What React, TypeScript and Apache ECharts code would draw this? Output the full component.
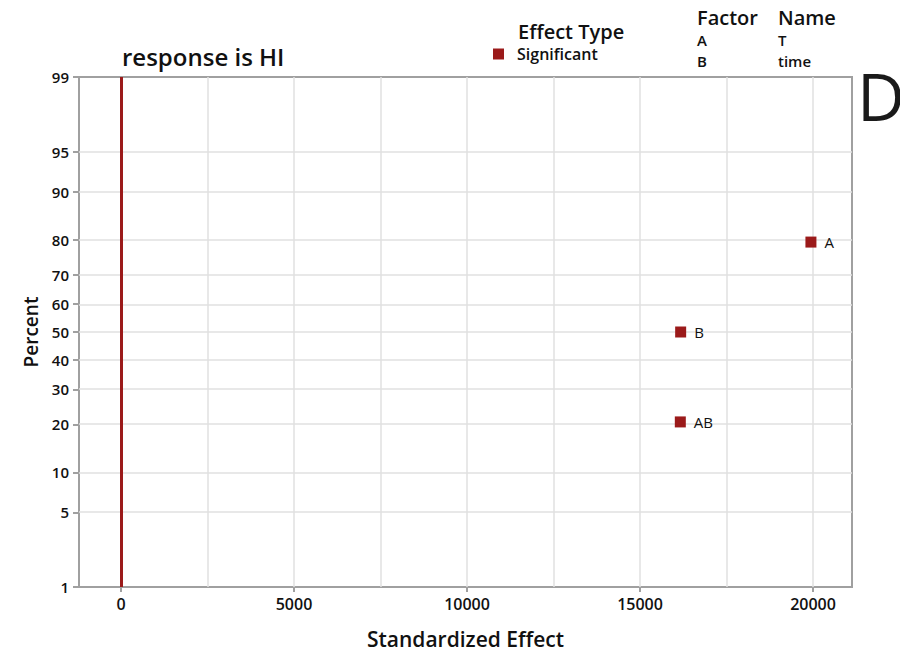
import React, { useEffect, useRef } from "react";
import * as echarts from "echarts";

// ---- data ----
const effectNames = ["AB", "B", "A"];
const effectValues = [16165, 16175, 19940];
const effectPercents = [20.6, 50, 79.4];
const percentTicks = [1, 5, 10, 20, 30, 40, 50, 60, 70, 80, 90, 95, 99];
const xTickValues = [0, 5000, 10000, 15000, 20000];
const xGridValues = [0, 2500, 5000, 7500, 10000, 12500, 15000, 17500, 20000];
const factorCodes = ["A", "B"];
const factorNames = ["T", "time"];

// inverse of the standard normal CDF (Acklam)
function invNorm(p: number): number {
  const a = [-3.969683028665376e1, 2.209460984245205e2, -2.759285104469687e2, 1.38357751867269e2, -3.066479806614716e1, 2.506628277459239];
  const b = [-5.447609879822406e1, 1.615858368580409e2, -1.556989798598866e2, 6.680131188771972e1, -1.328068155288572e1];
  const c = [-7.784894002430293e-3, -3.223964580411365e-1, -2.400758277161838, -2.549732539343734, 4.374664141464968, 2.938163982698783];
  const d = [7.784695709041462e-3, 3.224671290700398e-1, 2.445134137142996, 3.754408661907416];
  const pl = 0.02425;
  const ph = 1 - pl;
  if (p < pl) {
    const q = Math.sqrt(-2 * Math.log(p));
    return (((((c[0] * q + c[1]) * q + c[2]) * q + c[3]) * q + c[4]) * q + c[5]) / ((((d[0] * q + d[1]) * q + d[2]) * q + d[3]) * q + 1);
  }
  if (p <= ph) {
    const q = p - 0.5;
    const r = q * q;
    return ((((((a[0] * r + a[1]) * r + a[2]) * r + a[3]) * r + a[4]) * r + a[5]) * q) / (((((b[0] * r + b[1]) * r + b[2]) * r + b[3]) * r + b[4]) * r + 1);
  }
  const q = Math.sqrt(-2 * Math.log(1 - p));
  return -(((((c[0] * q + c[1]) * q + c[2]) * q + c[3]) * q + c[4]) * q + c[5]) / ((((d[0] * q + d[1]) * q + d[2]) * q + d[3]) * q + 1);
}

const FONT = "'Open Sans', 'Noto Sans', sans-serif";
const RED = "#9b1a1a";
const AXIS_GRAY = "#a0a0a0";
const GRID_GRAY = "#e0e0e0";
const INK = "#111111";

export default function App() {
  const ref = useRef<HTMLDivElement>(null);
  useEffect(() => {
    if (!ref.current) return;
    const chart = echarts.init(ref.current, undefined, { renderer: "svg" });
    const zTicks = percentTicks.map((p) => invNorm(p / 100));
    const yMin = zTicks[0];
    const yMax = zTicks[zTicks.length - 1];
    const labelFor = (v: number) => {
      let best = 0;
      let bd = Infinity;
      zTicks.forEach((z, i) => {
        const dd = Math.abs(z - v);
        if (dd < bd) {
          bd = dd;
          best = i;
        }
      });
      return String(percentTicks[best]);
    };
    const points = effectValues.map((v, i) => ({
      name: effectNames[i],
      value: [v, invNorm(effectPercents[i] / 100)],
    }));

    chart.setOption({
      animation: false,
      backgroundColor: "#ffffff",
      textStyle: { fontFamily: FONT },
      grid: {
        left: 79,
        right: 48,
        top: 77,
        bottom: 70,
        show: true,
        borderColor: AXIS_GRAY,
        borderWidth: 2,
        backgroundColor: "transparent",
      },
      legend: {
        left: 488,
        top: 41,
        itemWidth: 11,
        itemHeight: 11,
        icon: "rect",
        data: ["Significant"],
        itemStyle: { color: RED, opacity: 1 },
        textStyle: { fontFamily: FONT, fontWeight: 600, fontSize: 16, color: INK, padding: [0, 0, 0, 8] },
      },
      xAxis: {
        type: "value",
        min: -1214,
        max: 21127,
        name: "Standardized Effect",
        nameLocation: "middle",
        nameGap: 41,
        nameTextStyle: { fontFamily: FONT, fontWeight: 600, fontSize: 21, color: INK },
        axisLine: { show: true, onZero: false, lineStyle: { color: AXIS_GRAY, width: 2 } },
        axisTick: { show: true, length: 5, lineStyle: { color: AXIS_GRAY, width: 2 }, customValues: xTickValues },
        axisLabel: {
          fontFamily: FONT,
          fontWeight: 600,
          fontSize: 16,
          color: INK,
          margin: 9,
          customValues: xTickValues,
          formatter: (v: number) => String(Math.round(v)),
        },
        splitLine: { show: false },
      },
      yAxis: {
        type: "value",
        min: yMin,
        max: yMax,
        name: "Percent",
        nameLocation: "middle",
        nameGap: 38,
        nameTextStyle: { fontFamily: FONT, fontWeight: 600, fontSize: 19, color: INK },
        axisLine: { show: true, onZero: false, lineStyle: { color: AXIS_GRAY, width: 2 } },
        axisTick: { show: true, length: 6, lineStyle: { color: AXIS_GRAY, width: 2 }, customValues: zTicks },
        axisLabel: {
          fontFamily: FONT,
          fontWeight: 600,
          fontSize: 15,
          color: INK,
          margin: 10,
          customValues: zTicks,
          formatter: (v: number) => labelFor(v),
        },
        splitLine: { show: false },
      },
      series: [
        {
          type: "line",
          name: "grid",
          data: [],
          silent: true,
          z: 1,
          markLine: {
            silent: true,
            symbol: "none",
            label: { show: false },
            lineStyle: { color: GRID_GRAY, width: 1.5, type: "solid" },
            data: [
              ...xGridValues.map((x) => ({ xAxis: x })),
              ...zTicks.map((z) => ({ yAxis: z })),
            ],
          },
        },
        {
          type: "line",
          name: "zero",
          data: [],
          silent: true,
          z: 2,
          markLine: {
            silent: true,
            symbol: "none",
            label: { show: false },
            lineStyle: { color: RED, width: 3, type: "solid" },
            data: [{ xAxis: 0 }],
          },
        },
        {
          type: "scatter",
          name: "Significant",
          symbol: "rect",
          symbolSize: 11,
          z: 5,
          itemStyle: { color: RED, opacity: 1 },
          label: {
            show: true,
            position: "right",
            distance: 8,
            formatter: (p: any) => p.name,
            fontFamily: FONT,
            fontSize: 15,
            color: INK,
          },
          data: points,
        },
      ],
      graphic: [
        {
          type: "text",
          left: 122,
          top: 44,
          style: { text: "response is HI", fontFamily: FONT, fontWeight: 600, fontSize: 24, fill: INK },
        },
        {
          type: "text",
          left: 518,
          top: 21,
          style: { text: "Effect Type", fontFamily: FONT, fontWeight: 600, fontSize: 20, fill: INK },
        },
        {
          type: "text",
          left: 697,
          top: 7,
          style: { text: "Factor", fontFamily: FONT, fontWeight: 600, fontSize: 20, fill: INK },
        },
        {
          type: "text",
          left: 778,
          top: 7,
          style: { text: "Name", fontFamily: FONT, fontWeight: 600, fontSize: 20, fill: INK },
        },
        ...factorCodes.map((f, i) => ({
          type: "text",
          left: 697,
          top: 32 + i * 21,
          style: { text: f, fontFamily: FONT, fontWeight: 600, fontSize: 15, fill: INK },
        })),
        ...factorNames.map((f, i) => ({
          type: "text",
          left: 778,
          top: 32 + i * 21,
          style: { text: f, fontFamily: FONT, fontWeight: 600, fontSize: 15, fill: INK },
        })),
        {
          type: "text",
          left: 857,
          top: 62,
          style: { text: "D", fontFamily: FONT, fontWeight: 400, fontSize: 66, fill: "#1a1a1a" },
        },
      ],
    });
    return () => chart.dispose();
  }, []);
  return <div ref={ref} style={{ position: "fixed", left: 0, top: 0, width: 900, height: 657 }} />;
}
